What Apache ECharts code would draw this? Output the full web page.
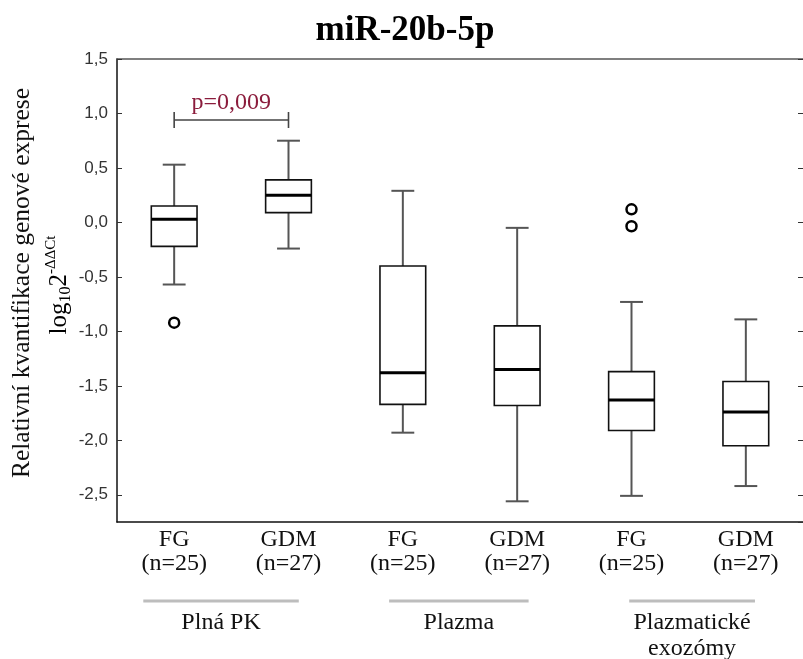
<!DOCTYPE html>
<html>
<head>
<meta charset="utf-8">
<script src="https://cdn.jsdelivr.net/npm/echarts@6/dist/echarts.min.js"></script>
<style>
  html, body { margin: 0; padding: 0; background: #fff; }
  #chart { width: 803px; height: 659px; }
</style>
</head>
<body>
<div id="chart"></div>
<script>
// Sample types; each one holds the two cohorts below
const groupNames = ['Plná PK', 'Plazma', 'Plazmatické\nexozómy'];
const cohortNames = ['FG', 'GDM', 'FG', 'GDM', 'FG', 'GDM'];
const cohortSizes = [25, 27, 25, 27, 25, 27];

// Box statistics per cohort (log10 2^-ΔΔCt)
const whiskerLow  = [-0.57, -0.24, -1.93, -2.56, -2.51, -2.42];
const quartile1   = [-0.22,  0.09, -1.67, -1.68, -1.91, -2.05];
const medians     = [ 0.03,  0.25, -1.38, -1.35, -1.63, -1.74];
const quartile3   = [ 0.15,  0.39, -0.40, -0.95, -1.37, -1.46];
const whiskerHigh = [ 0.53,  0.75,  0.29, -0.05, -0.73, -0.89];

// Outlying values: [cohort index, value]
const outliers = [[0, -0.92], [4, 0.12], [4, -0.035]];

// Significance bracket between two cohorts
const pairFrom = 0, pairTo = 1, pairLevel = 0.94, pairLabel = 'p=0,009';

// Value axis range
const yMin = -2.75, yMax = 1.5;

// Underline extent of each group label, in category widths relative to its two cohorts
const groupRule = [[-0.27, 0.09], [-0.12, 0.1], [-0.02, 0.08]];

const SERIF = '"Liberation Serif", "Times New Roman", serif';
const SANS = '"Liberation Sans", Arial, sans-serif';

const categories = cohortNames.map((c, i) => groupNames[i >> 1] + ' / ' + c);

const chart = echarts.init(document.getElementById('chart'), null, { renderer: 'canvas' });

function renderBox(params, api) {
  const i = api.value(0);
  const x = api.coord([i, 0])[0];
  const band = api.size([1, 0])[0];
  const bw = band * 0.4;
  const cw = band * 0.2;
  const yLow = api.coord([i, api.value(1)])[1];
  const yQ1 = api.coord([i, api.value(2)])[1];
  const yMed = api.coord([i, api.value(3)])[1];
  const yQ3 = api.coord([i, api.value(4)])[1];
  const yHigh = api.coord([i, api.value(5)])[1];
  const whisker = { stroke: '#555', lineWidth: 2 };
  return {
    type: 'group',
    children: [
      { type: 'line', shape: { x1: x, y1: yHigh, x2: x, y2: yQ3 }, style: whisker },
      { type: 'line', shape: { x1: x, y1: yQ1, x2: x, y2: yLow }, style: whisker },
      { type: 'line', shape: { x1: x - cw / 2, y1: yHigh, x2: x + cw / 2, y2: yHigh }, style: whisker },
      { type: 'line', shape: { x1: x - cw / 2, y1: yLow, x2: x + cw / 2, y2: yLow }, style: whisker },
      { type: 'rect', shape: { x: x - bw / 2, y: yQ3, width: bw, height: yQ1 - yQ3 },
        style: { fill: '#fff', stroke: '#111', lineWidth: 1.6 } },
      { type: 'line', shape: { x1: x - bw / 2, y1: yMed, x2: x + bw / 2, y2: yMed },
        style: { stroke: '#000', lineWidth: 3 } }
    ]
  };
}

function renderBracket(params, api) {
  const p1 = api.coord([api.value(0), api.value(2)]);
  const p2 = api.coord([api.value(1), api.value(2)]);
  const st = { stroke: '#444', lineWidth: 1.6 };
  return {
    type: 'group',
    children: [
      { type: 'line', shape: { x1: p1[0], y1: p1[1], x2: p2[0], y2: p2[1] }, style: st },
      { type: 'line', shape: { x1: p1[0], y1: p1[1] - 8, x2: p1[0], y2: p1[1] + 8 }, style: st },
      { type: 'line', shape: { x1: p2[0], y1: p2[1] - 8, x2: p2[0], y2: p2[1] + 8 }, style: st },
      { type: 'text', x: (p1[0] + p2[0]) / 2, y: p1[1] - 17,
        style: { text: pairLabel, font: '24px ' + SERIF, fill: '#8b1c3c',
                 align: 'center', verticalAlign: 'middle' } }
    ]
  };
}

function renderGroup(params, api) {
  const g = params.dataIndex;
  const band = api.size([1, 0])[0];
  const xa = api.coord([api.value(0), 0])[0] + groupRule[g][0] * band;
  const xb = api.coord([api.value(1), 0])[0] + groupRule[g][1] * band;
  const bottom = params.coordSys.y + params.coordSys.height;
  const xc = (xa + xb) / 2;
  return {
    type: 'group',
    children: [
      { type: 'line', shape: { x1: xa, y1: bottom + 79, x2: xb, y2: bottom + 79 },
        style: { stroke: '#bdbdbd', lineWidth: 3 } },
      { type: 'text', x: xc, y: bottom + 88,
        style: { text: groupNames[g], font: '24px ' + SERIF, fill: '#111',
                 align: 'center', verticalAlign: 'top', lineHeight: 26 } }
    ]
  };
}

const tickFmt = v => v.toFixed(1).replace('.', ',');

chart.setOption({
  animation: false,
  backgroundColor: '#fff',
  title: {
    text: 'miR-20b-5p',
    left: 400, top: 8, textAlign: 'center',
    textStyle: { fontFamily: SERIF, fontWeight: 'bold', fontSize: 35, color: '#000' }
  },
  grid: { left: 117, top: 59, width: 688, height: 463 },
  graphic: [
    { type: 'text', x: 22, y: 283, rotation: Math.PI / 2,
      style: { text: 'Relativní kvantifikace genové exprese', font: '25.5px ' + SERIF,
               fill: '#111', align: 'center', verticalAlign: 'middle' } },
    { type: 'text', x: 59, y: 285, rotation: Math.PI / 2,
      style: {
        text: '{b|log}{s|10}{b|2}{p|-ΔΔCt}',
        align: 'center', verticalAlign: 'middle',
        rich: {
          b: { fontFamily: SERIF, fontSize: 25, color: '#111', lineHeight: 30, verticalAlign: 'middle' },
          s: { fontFamily: SERIF, fontSize: 16, color: '#111', lineHeight: 30, verticalAlign: 'bottom' },
          p: { fontFamily: SERIF, fontSize: 15, color: '#111', lineHeight: 30, verticalAlign: 'top' }
        }
      } }
  ],
  xAxis: [
    {
      type: 'category', data: categories, position: 'bottom', boundaryGap: true,
      axisLine: { onZero: false, lineStyle: { color: '#111', width: 1.5 } },
      axisTick: { inside: true, length: 5, alignWithLabel: true, lineStyle: { color: '#333' } },
      axisLabel: {
        interval: 0, margin: 6, color: '#111', fontFamily: SERIF, fontSize: 24, lineHeight: 24,
        formatter: (val, idx) => cohortNames[idx] + '\n(n=' + cohortSizes[idx] + ')'
      },
      splitLine: { show: false }
    },
    {
      type: 'category', data: categories, position: 'top', boundaryGap: true,
      axisLine: { onZero: false, lineStyle: { color: '#555', width: 1.5 } },
      axisTick: { inside: true, length: 5, alignWithLabel: true, lineStyle: { color: '#555' } },
      axisLabel: { show: false }, splitLine: { show: false }
    }
  ],
  yAxis: [
    {
      type: 'value', min: yMin, max: yMax, splitNumber: 8, position: 'left',
      axisLine: { show: true, onZero: false, lineStyle: { color: '#111', width: 1.5 } },
      axisTick: { show: true, inside: true, length: 5, lineStyle: { color: '#333' } },
      axisLabel: { showMinLabel: false, margin: 9, color: '#333', fontFamily: SANS, fontSize: 17,
                   formatter: tickFmt },
      splitLine: { show: false }
    },
    {
      type: 'value', min: yMin, max: yMax, splitNumber: 8, position: 'right',
      axisLine: { show: false, onZero: false },
      axisTick: { show: true, inside: true, length: 5, lineStyle: { color: '#333' } },
      axisLabel: { show: false }, splitLine: { show: false }
    }
  ],
  series: [
    {
      type: 'custom', name: 'box', renderItem: renderBox,
      encode: { x: 0, y: [1, 2, 3, 4, 5] },
      data: cohortNames.map((_, i) => [i, whiskerLow[i], quartile1[i], medians[i], quartile3[i], whiskerHigh[i]]),
      z: 3
    },
    {
      type: 'scatter', name: 'outliers', symbol: 'circle', symbolSize: 10,
      itemStyle: { color: '#fff', borderColor: '#000', borderWidth: 2.5, opacity: 1 },
      data: outliers, z: 4
    },
    {
      type: 'custom', name: 'bracket', renderItem: renderBracket,
      encode: { x: [0, 1], y: 2 },
      data: [[pairFrom, pairTo, pairLevel]], z: 4
    },
    {
      type: 'custom', name: 'groups', renderItem: renderGroup, clip: false,
      encode: { x: [0, 1] },
      data: groupNames.map((_, g) => [2 * g, 2 * g + 1]), z: 4
    }
  ]
});
</script>
</body>
</html>
